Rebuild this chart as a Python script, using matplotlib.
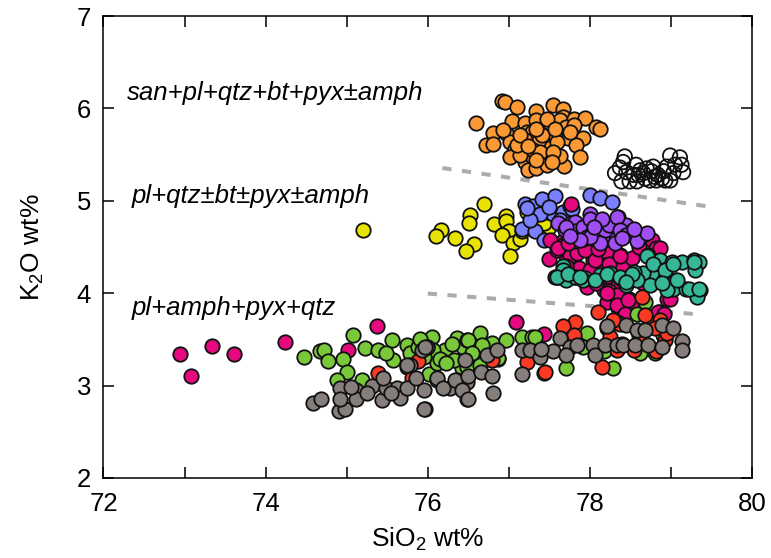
import matplotlib
matplotlib.use("Agg")
import matplotlib.pyplot as plt
from matplotlib.ticker import MultipleLocator

plt.rcParams['font.family'] = ['Liberation Sans', 'DejaVu Sans']
plt.rcParams['mathtext.fontset'] = 'custom'
plt.rcParams['mathtext.rm'] = 'Liberation Sans'
plt.rcParams['mathtext.it'] = 'Liberation Sans:italic'

# (SiO2 wt%, K2O wt%) analyses, grouped by unit
orange = [(76.91, 6.08), (76.95, 6.07), (77.10, 6.01), (76.60, 5.84), (77.34, 5.97),
          (77.54, 6.04), (77.67, 5.99), (77.67, 5.91), (76.80, 5.73), (76.72, 5.60),
          (76.80, 5.62), (76.97, 5.73), (77.04, 5.86), (77.20, 5.84), (77.34, 5.87),
          (77.22, 5.75), (77.28, 5.75), (77.47, 5.77), (77.51, 5.84), (77.63, 5.87),
          (77.80, 5.89), (77.94, 5.90), (78.08, 5.80), (78.12, 5.78), (77.71, 5.80),
          (77.73, 5.68), (77.92, 5.68), (77.83, 5.60), (77.88, 5.47), (77.68, 5.38),
          (77.63, 5.48), (77.51, 5.57), (77.36, 5.64), (77.20, 5.66), (77.01, 5.64),
          (77.08, 5.56), (77.01, 5.47), (77.20, 5.42), (77.28, 5.48), (77.43, 5.44),
          (77.24, 5.33), (77.34, 5.36), (77.47, 5.39), (77.14, 5.50), (77.57, 5.71),
          (77.60, 5.64), (77.41, 5.71), (76.93, 5.77), (77.80, 5.82), (77.47, 5.89),
          (77.10, 5.60), (77.30, 5.55), (77.38, 5.53), (77.55, 5.53), (77.57, 5.78),
          (77.34, 5.78), (77.14, 5.71), (77.75, 5.75), (77.24, 5.59), (77.53, 5.42),
          (77.34, 5.44)]

open_pts = [(78.43, 5.48), (78.57, 5.39), (78.31, 5.30), (78.37, 5.36), (78.45, 5.31),
            (78.49, 5.21), (78.39, 5.21), (78.62, 5.33), (78.70, 5.35), (78.76, 5.32),
            (78.80, 5.26), (78.68, 5.24), (78.74, 5.22), (78.84, 5.28), (78.89, 5.24),
            (78.91, 5.32), (78.95, 5.37), (78.99, 5.49), (79.11, 5.47), (79.13, 5.39),
            (79.15, 5.31), (79.03, 5.30), (78.99, 5.22), (78.60, 5.28), (78.54, 5.28),
            (78.66, 5.30), (78.82, 5.22), (78.93, 5.22), (78.41, 5.42), (79.05, 5.39),
            (78.78, 5.37), (78.58, 5.21)]

yellow = [(75.20, 4.68), (76.69, 4.97), (76.52, 4.85), (76.51, 4.76), (76.16, 4.68),
          (76.10, 4.62), (76.34, 4.60), (76.57, 4.53), (76.47, 4.46), (76.82, 4.75),
          (76.97, 4.84), (76.97, 4.78), (77.00, 4.67), (76.91, 4.63), (77.05, 4.54),
          (77.01, 4.40), (77.14, 4.59), (77.16, 4.67), (77.22, 4.88), (77.49, 4.72),
          (77.43, 4.76)]

blue = [(77.20, 4.97), (77.30, 4.94), (77.41, 5.02), (77.57, 5.05), (77.47, 4.88),
        (77.55, 4.86), (77.67, 4.88), (77.28, 4.82), (77.16, 4.70), (77.32, 4.67),
        (77.43, 4.58), (77.38, 4.86), (77.63, 4.79), (77.75, 4.94), (78.00, 5.06),
        (78.13, 5.03), (78.27, 4.99), (77.26, 4.79), (77.22, 4.92), (77.78, 4.91),
        (77.50, 4.93)]

magenta = [(72.94, 3.34), (73.08, 3.10), (73.34, 3.43), (73.61, 3.34), (74.24, 3.47),
           (75.37, 3.64), (75.02, 3.38), (77.09, 3.69), (77.43, 3.56),
           (77.67, 4.56), (77.82, 4.41), (77.86, 4.27), (77.98, 4.47), (78.04, 4.36),
           (78.00, 4.25), (78.21, 4.43), (78.17, 4.30), (78.37, 4.41), (78.39, 4.29),
           (78.52, 4.38), (78.76, 4.58), (78.82, 4.49), (77.96, 4.07), (78.21, 4.14),
           (78.29, 4.03), (78.17, 4.03), (78.35, 4.09), (78.48, 3.94), (78.21, 3.91),
           (78.35, 3.93), (78.58, 3.85), (78.35, 3.84), (78.85, 3.80), (78.95, 3.94),
           (78.97, 4.02), (77.71, 4.40), (78.08, 4.11), (77.49, 4.37), (77.59, 4.47),
           (77.51, 4.58), (77.67, 4.52), (77.75, 4.40), (77.84, 4.43), (77.71, 4.29),
           (77.59, 4.18), (77.77, 4.97), (77.96, 4.50), (77.82, 4.56), (77.61, 4.49),
           (77.73, 4.54), (77.94, 4.47), (78.06, 4.36), (78.23, 4.32), (78.37, 4.40),
           (78.87, 4.49), (77.57, 4.18), (78.23, 4.02), (78.33, 3.98), (78.66, 4.11),
           (78.21, 4.00), (78.33, 3.87), (78.47, 3.93), (78.43, 3.78), (78.84, 3.80),
           (78.91, 3.78), (78.99, 3.94), (78.60, 4.50), (78.10, 4.48)]

purple = [(77.61, 4.76), (77.69, 4.68), (77.77, 4.76), (77.84, 4.65), (77.92, 4.59),
          (77.82, 4.77), (78.00, 4.86), (78.08, 4.76), (77.82, 4.67), (77.92, 4.72),
          (78.04, 4.67), (78.10, 4.63), (78.21, 4.59), (78.25, 4.72), (78.35, 4.82),
          (78.45, 4.74), (78.43, 4.65), (78.58, 4.58), (78.52, 4.67), (78.68, 4.64),
          (78.31, 4.65), (78.19, 4.68), (77.96, 4.61), (78.13, 4.54), (78.31, 4.54),
          (77.71, 4.72), (78.00, 4.80), (78.23, 4.74), (78.33, 4.83), (78.37, 4.68),
          (78.45, 4.63), (78.58, 4.56), (78.70, 4.65), (78.00, 4.61), (77.88, 4.58),
          (78.15, 4.80), (78.40, 4.60), (78.55, 4.70), (77.75, 4.62), (78.05, 4.72)]

teal = [(78.72, 4.41), (78.87, 4.36), (79.01, 4.34), (79.13, 4.34), (79.28, 4.36),
        (79.34, 4.34), (79.30, 4.25), (78.91, 4.25), (78.80, 4.18), (78.66, 4.22),
        (78.54, 4.23), (78.45, 4.09), (78.37, 4.16), (78.25, 4.22), (78.13, 4.20),
        (77.94, 4.16), (77.80, 4.18), (77.71, 4.20), (78.74, 4.09), (78.91, 4.14),
        (79.05, 4.14), (79.03, 4.05), (79.19, 4.05), (79.36, 4.03), (79.32, 3.96),
        (78.95, 4.03), (78.58, 4.14), (77.67, 4.29), (77.63, 4.18), (77.71, 4.14),
        (77.82, 4.18), (77.92, 4.14), (77.67, 4.25), (77.59, 4.18), (77.73, 4.21),
        (77.88, 4.18), (78.06, 4.14), (78.21, 4.21), (78.37, 4.18), (78.52, 4.21),
        (78.70, 4.40), (78.78, 4.32), (78.93, 4.25), (79.03, 4.32), (79.28, 4.34),
        (79.22, 4.05), (79.34, 4.05), (79.07, 4.14), (78.89, 4.11), (78.45, 4.12)]

green = [(74.47, 3.31), (74.67, 3.37), (74.72, 3.38), (74.77, 3.27), (74.96, 3.29),
         (75.08, 3.55), (75.23, 3.41), (75.39, 3.38), (75.56, 3.49), (75.57, 3.28),
         (75.00, 3.15), (74.88, 3.06), (75.19, 3.06), (75.74, 3.44), (75.78, 3.35),
         (75.88, 3.42), (76.05, 3.53), (76.01, 3.13), (76.21, 3.38), (76.21, 3.26),
         (76.36, 3.52), (76.44, 3.42), (76.42, 3.19), (76.07, 3.38), (75.49, 3.35),
         (75.74, 3.20), (75.95, 3.31), (76.11, 3.24), (76.32, 3.28), (76.48, 3.49),
         (76.64, 3.57), (76.66, 3.42), (76.79, 3.46), (76.87, 3.29), (76.97, 3.49),
         (76.65, 3.24), (76.15, 3.29), (75.99, 3.42), (76.23, 3.24), (76.48, 3.20),
         (76.50, 3.49), (76.67, 3.44), (76.87, 3.30), (76.64, 3.22), (77.16, 3.53),
         (77.28, 3.53), (77.43, 3.14), (77.71, 3.19), (77.92, 3.42), (77.96, 3.57),
         (78.17, 3.37), (78.29, 3.19), (78.68, 3.91), (78.58, 3.78), (78.33, 3.69),
         (78.62, 3.35), (77.32, 3.53), (78.40, 3.45), (78.80, 3.35), (78.90, 3.55),
         (76.30, 3.45), (75.90, 3.50), (76.55, 3.35)]

red = [(75.39, 3.14), (75.80, 3.08), (75.88, 3.27), (77.82, 3.69), (77.67, 3.64),
       (77.80, 3.55), (78.15, 3.20), (78.10, 3.80), (78.21, 3.62), (78.25, 3.53),
       (78.37, 3.67), (78.64, 3.96), (78.74, 3.67), (78.68, 3.76), (78.86, 3.71),
       (78.93, 3.49), (78.95, 3.57), (77.45, 3.15), (78.33, 3.39), (78.82, 3.37),
       (78.54, 3.39), (78.29, 3.71), (77.22, 3.26), (76.79, 3.28), (78.60, 3.55),
       (78.80, 3.62)]

gray = [(74.58, 2.81), (74.68, 2.86), (74.90, 2.72), (74.98, 2.75), (74.92, 2.97),
        (74.92, 2.86), (75.12, 2.95), (75.12, 2.86), (75.31, 3.00), (75.43, 2.84),
        (75.49, 2.97), (75.62, 2.97), (75.66, 2.87), (75.74, 2.97), (75.78, 3.22),
        (75.95, 2.95), (75.97, 2.75), (75.99, 3.42), (75.93, 3.39), (76.11, 3.06),
        (76.28, 2.97), (76.36, 3.06), (76.48, 3.04), (76.48, 2.86), (76.46, 3.28),
        (75.86, 3.08), (75.45, 3.08), (75.74, 3.22), (75.97, 3.42), (75.95, 2.75),
        (76.11, 3.08), (76.19, 2.97), (76.34, 3.06), (76.42, 2.95), (76.50, 3.10),
        (76.66, 3.15), (76.73, 3.33), (76.79, 3.10), (76.81, 2.92), (76.85, 3.38),
        (76.50, 2.86), (77.16, 3.13), (77.16, 3.39), (77.26, 3.39), (77.38, 3.31),
        (77.55, 3.37), (77.63, 3.51), (77.75, 3.42), (77.71, 3.33), (78.04, 3.44),
        (78.06, 3.33), (78.19, 3.44), (78.21, 3.64), (78.33, 3.44), (78.41, 3.44),
        (78.45, 3.66), (78.56, 3.44), (78.58, 3.60), (78.72, 3.44), (78.89, 3.66),
        (78.89, 3.42), (79.03, 3.62), (79.13, 3.48), (79.13, 3.39), (78.68, 3.60),
        (77.84, 3.44), (75.05, 2.98), (75.25, 2.92), (75.55, 2.92), (77.40, 3.40)]

# Approximate phase-assemblage boundaries (SiO2, K2O end points)
upper_boundary = [(76.18, 5.355), (79.53, 4.93)]
lower_boundary = [(76.00, 3.996), (79.36, 3.77)]

fig = plt.figure(figsize=(7.71, 5.58), dpi=100)
ax = fig.add_axes([0.1342, 0.1434, 0.8412, 0.8279])

for line in (upper_boundary, lower_boundary):
    lx, ly = zip(*line)
    ax.plot(lx, ly, color='#ababab', lw=2.9, ls=(0, (2.3, 2.6)),
            solid_capstyle='butt', dash_capstyle='butt', zorder=2)

marker_kw = dict(s=108, linewidths=1.3, edgecolors='#111111', zorder=3)
layers = [
    (yellow, '#e8e400'),
    (blue, '#7b80ff'),
    (magenta, '#e5087f'),
    (purple, '#a04ff5'),
    (teal, '#36b898'),
    (green, '#79c83a'),
    (red, '#fb3a26'),
    (gray, '#857e7b'),
    (orange, '#fb9a35'),
]
for pts, col in layers:
    px, py = zip(*pts)
    ax.scatter(px, py, c=col, **marker_kw)

ox, oy = zip(*open_pts)
ax.scatter(ox, oy, facecolors='none', edgecolors='#111111', s=108, linewidths=1.3, zorder=3)

ax.set_xlim(72, 80)
ax.set_ylim(2, 7)
ax.xaxis.set_major_locator(MultipleLocator(2))
ax.xaxis.set_minor_locator(MultipleLocator(1))
ax.yaxis.set_major_locator(MultipleLocator(1))
ax.tick_params(which='both', direction='in', top=True, right=True,
               length=8, width=1.1, labelsize=18.5)
ax.tick_params(axis='x', pad=10)
ax.tick_params(axis='y', pad=9)
for sp in ax.spines.values():
    sp.set_linewidth(1.1)

ax.set_xlabel('SiO$_2$ wt%', fontsize=19, labelpad=7)
ax.set_ylabel('K$_2$O wt%', fontsize=19, labelpad=22)

txt_kw = dict(fontsize=18.5, style='italic', va='center', ha='left')
ax.text(72.29, 6.17, 'san+pl+qtz+bt+pyx±amph', **txt_kw)
ax.text(72.35, 5.05, 'pl+qtz±bt±pyx±amph', **txt_kw)
ax.text(72.35, 3.84, 'pl+amph+pyx+qtz', **txt_kw)

fig.savefig('out.png', dpi=100)
